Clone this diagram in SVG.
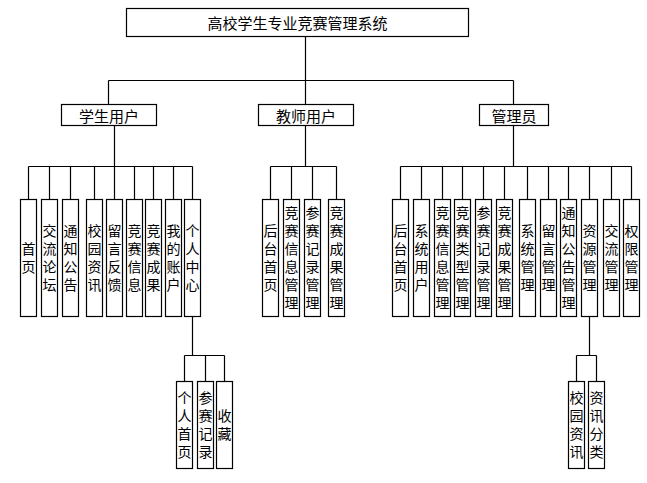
<svg xmlns="http://www.w3.org/2000/svg" width="647" height="483" viewBox="0 0 647 483">
<style>
rect{fill:#fff;stroke:#000;stroke-width:1.2}
.c path{fill:none;stroke:#000;stroke-width:1.2}
text{font-family:"Noto Sans CJK SC","Liberation Sans",sans-serif;fill:#000}
.h{font-size:15px;text-anchor:middle;dominant-baseline:central}
.v{font-size:14px;text-anchor:middle;writing-mode:vertical-rl;letter-spacing:4px}
</style>
<rect width="647" height="483" style="fill:#fff;stroke:none"/>
<g class="c" id="connectors">
<path d="M305.5 36.5V104.5M108.5 80.5H513.5M108.5 80.5V104.5M513.5 80.5V104.5"/>
<path d="M114.5 125.5V199.5M28.5 166.5H192.5M28.5 166.5V199.5M49.5 166.5V199.5M70.5 166.5V199.5M94.5 166.5V199.5M134.5 166.5V199.5M153.5 166.5V199.5M173.5 166.5V199.5M192.5 166.5V199.5"/>
<path d="M305.5 125.5V166.5M270.5 166.5H336.5M270.5 166.5V199.5M291.5 166.5V199.5M312.5 166.5V199.5M336.5 166.5V199.5"/>
<path d="M513.5 125.5V166.5M400.5 166.5H631.5M400.5 166.5V199.5M421.5 166.5V199.5M442.5 166.5V199.5M462.5 166.5V199.5M483.5 166.5V199.5M504.5 166.5V199.5M527.5 166.5V199.5M548.5 166.5V199.5M568.5 166.5V199.5M589.5 166.5V199.5M611.5 166.5V199.5M631.5 166.5V199.5"/>
<path d="M192.5 316.5V355.5M184.5 355.5H224.5M184.5 355.5V381.5M205.5 355.5V381.5M224.5 355.5V381.5"/>
<path d="M589.5 316.5V355.5M576.5 355.5H596.5M576.5 355.5V381.5M596.5 355.5V381.5"/>
</g>
<g id="root"><rect x="126.5" y="8.5" width="342" height="28"/><text class="h" x="297.5" y="22.5">高校学生专业竞赛管理系统</text></g>
<g id="student"><rect x="61.5" y="104.5" width="95" height="21"/><text class="h" x="109" y="115">学生用户</text></g>
<g id="teacher"><rect x="258.5" y="104.5" width="95" height="21"/><text class="h" x="306" y="115">教师用户</text></g>
<g id="admin"><rect x="479.5" y="104.5" width="69" height="21"/><text class="h" x="514" y="115">管理员</text></g>

<g id="s1"><rect x="20.5" y="199.5" width="16" height="117"/><text class="v" x="28.5" y="260">首页</text></g>
<g id="s2"><rect x="41.5" y="199.5" width="16" height="117"/><text class="v" x="49.5" y="260">交流论坛</text></g>
<g id="s3"><rect x="62.5" y="199.5" width="16" height="117"/><text class="v" x="70.5" y="260">通知公告</text></g>
<g id="s4"><rect x="86.5" y="199.5" width="16" height="117"/><text class="v" x="94.5" y="260">校园资讯</text></g>
<g id="s5"><rect x="106.5" y="199.5" width="16" height="117"/><text class="v" x="114.5" y="260">留言反馈</text></g>
<g id="s6"><rect x="126.5" y="199.5" width="16" height="117"/><text class="v" x="134.5" y="260">竞赛信息</text></g>
<g id="s7"><rect x="145.5" y="199.5" width="16" height="117"/><text class="v" x="153.5" y="260">竞赛成果</text></g>
<g id="s8"><rect x="165.5" y="199.5" width="16" height="117"/><text class="v" x="173.5" y="260">我的账户</text></g>
<g id="s9"><rect x="184.5" y="199.5" width="16" height="117"/><text class="v" x="192.5" y="260">个人中心</text></g>

<g id="t1"><rect x="262.5" y="199.5" width="16" height="117"/><text class="v" x="270.5" y="260">后台首页</text></g>
<g id="t2"><rect x="283.5" y="199.5" width="16" height="117"/><text class="v" x="291.5" y="260">竞赛信息管理</text></g>
<g id="t3"><rect x="304.5" y="199.5" width="16" height="117"/><text class="v" x="312.5" y="260">参赛记录管理</text></g>
<g id="t4"><rect x="328.5" y="199.5" width="16" height="117"/><text class="v" x="336.5" y="260">竞赛成果管理</text></g>

<g id="a1"><rect x="392.5" y="199.5" width="16" height="117"/><text class="v" x="400.5" y="260">后台首页</text></g>
<g id="a2"><rect x="413.5" y="199.5" width="16" height="117"/><text class="v" x="421.5" y="260">系统用户</text></g>
<g id="a3"><rect x="434.5" y="199.5" width="16" height="117"/><text class="v" x="442.5" y="260">竞赛信息管理</text></g>
<g id="a4"><rect x="454.5" y="199.5" width="16" height="117"/><text class="v" x="462.5" y="260">竞赛类型管理</text></g>
<g id="a5"><rect x="475.5" y="199.5" width="16" height="117"/><text class="v" x="483.5" y="260">参赛记录管理</text></g>
<g id="a6"><rect x="496.5" y="199.5" width="16" height="117"/><text class="v" x="504.5" y="260">竞赛成果管理</text></g>
<g id="a7"><rect x="519.5" y="199.5" width="16" height="117"/><text class="v" x="527.5" y="260">系统管理</text></g>
<g id="a8"><rect x="540.5" y="199.5" width="16" height="117"/><text class="v" x="548.5" y="260">留言管理</text></g>
<g id="a9"><rect x="560.5" y="199.5" width="16" height="117"/><text class="v" x="568.5" y="260">通知公告管理</text></g>
<g id="a10"><rect x="581.5" y="199.5" width="16" height="117"/><text class="v" x="589.5" y="260">资源管理</text></g>
<g id="a11"><rect x="603.5" y="199.5" width="16" height="117"/><text class="v" x="611.5" y="260">交流管理</text></g>
<g id="a12"><rect x="623.5" y="199.5" width="16" height="117"/><text class="v" x="631.5" y="260">权限管理</text></g>

<g id="p1"><rect x="176.5" y="381.5" width="16" height="87"/><text class="v" x="184.5" y="427">个人首页</text></g>
<g id="p2"><rect x="197.5" y="381.5" width="16" height="87"/><text class="v" x="205.5" y="427">参赛记录</text></g>
<g id="p3"><rect x="216.5" y="381.5" width="16" height="87"/><text class="v" x="224.5" y="427">收藏</text></g>

<g id="r1"><rect x="568.5" y="381.5" width="16" height="87"/><text class="v" x="576.5" y="427">校园资讯</text></g>
<g id="r2"><rect x="588.5" y="381.5" width="16" height="87"/><text class="v" x="596.5" y="427">资讯分类</text></g>
</svg>
